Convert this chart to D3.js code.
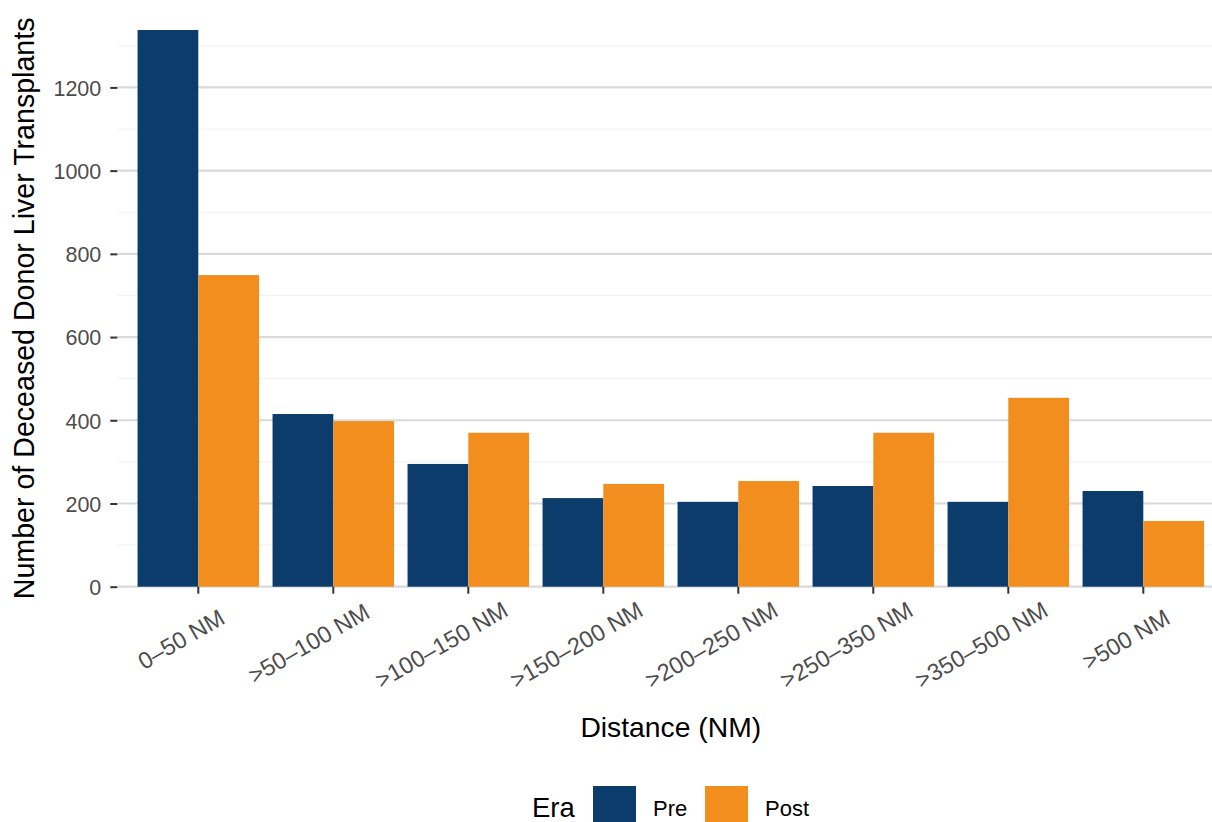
<!DOCTYPE html>
<html>
<head>
<meta charset="utf-8">
<script src="https://cdn.jsdelivr.net/npm/d3@7"></script>
<style>
  html, body { margin: 0; padding: 0; background: #fff; }
  svg { display: block; font-family: "Liberation Sans", Arial, Helvetica, sans-serif; }
</style>
</head>
<body>
<svg id="chart" width="1212" height="822"></svg>
<script>
// ---- data ----
const categories = ["0\u201350 NM", ">50\u2013100 NM", ">100\u2013150 NM", ">150\u2013200 NM",
                    ">200\u2013250 NM", ">250\u2013350 NM", ">350\u2013500 NM", ">500 NM"];
const eras = ["Pre", "Post"];
const preValues  = [1338, 415, 295, 213, 204, 242, 204, 230];
const postValues = [749, 398, 370, 247, 254, 370, 454, 158];
const yMajorTicks = [0, 200, 400, 600, 800, 1000, 1200];
const yMinorTicks = [100, 300, 500, 700, 900, 1100, 1300];
const eraColors = ["#0C3C6C", "#F28E1E"];
const xTitle = "Distance (NM)";
const yTitle = "Number of Deceased Donor Liver Transplants";
const legendTitle = "Era";

// ---- layout ----
const W = 1212, H = 822;
const panel = { left: 117.3, right: 1224.3, top: 30, bottom: 586.7 };

const svg = d3.select("#chart");

const x = d3.scaleBand().domain(categories)
  .range([panel.left, panel.right]).paddingInner(0.1).paddingOuter(0.15);
const xSub = d3.scaleBand().domain(eras).range([0, x.bandwidth()]).padding(0);
const y = d3.scaleLinear().domain([0, d3.max(preValues.concat(postValues))])
  .range([panel.bottom, panel.top]);
const color = d3.scaleOrdinal().domain(eras).range(eraColors);

// gridlines
svg.append("g").selectAll("line").data(yMinorTicks).join("line")
  .attr("x1", panel.left).attr("x2", panel.right)
  .attr("y1", d => y(d)).attr("y2", d => y(d))
  .attr("stroke", "#F2F2F2").attr("stroke-width", 1.2);
svg.append("g").selectAll("line").data(yMajorTicks).join("line")
  .attr("x1", panel.left).attr("x2", panel.right)
  .attr("y1", d => y(d)).attr("y2", d => y(d))
  .attr("stroke", "#DADADA").attr("stroke-width", 2.2);

// bars
const rows = categories.map((c, i) => ({ cat: c, vals: [
  { era: "Pre", v: preValues[i] }, { era: "Post", v: postValues[i] } ] }));
svg.append("g").selectAll("g").data(rows).join("g")
  .attr("transform", d => `translate(${x(d.cat)},0)`)
  .selectAll("rect").data(d => d.vals).join("rect")
  .attr("x", d => xSub(d.era)).attr("width", xSub.bandwidth())
  .attr("y", d => y(d.v)).attr("height", d => y(0) - y(d.v))
  .attr("fill", d => color(d.era));

// y axis
const yAxis = d3.axisLeft(y).tickValues(yMajorTicks).tickSize(7).tickPadding(9).tickFormat(d3.format("d"));
const gy = svg.append("g").attr("transform", `translate(${panel.left},0)`).call(yAxis);
gy.select(".domain").remove();
gy.selectAll(".tick line").attr("stroke", "#333333").attr("stroke-width", 2);
gy.selectAll(".tick text").attr("fill", "#4D4D4D").style("font-size", "21.5px")
  .attr("dy", "0.36em");

// x axis
const xAxis = d3.axisBottom(x).tickSize(7).tickFormat("");
const gx = svg.append("g").attr("transform", `translate(0,${panel.bottom})`).call(xAxis);
gx.select(".domain").remove();
gx.selectAll(".tick line").attr("stroke", "#333333").attr("stroke-width", 2);
gx.selectAll(".tick text").remove();

// rotated x labels
const xl = svg.append("g").selectAll("g").data(categories).join("g")
  .attr("transform", d => `translate(${x(d) + x.bandwidth() / 2},629) rotate(-30)`);
xl.append("text")
  .text(d => d)
  .attr("fill", "#4D4D4D").style("font-size", "23.5px")
  .attr("dy", "0.36em")
  .attr("text-anchor", "start")
  .attr("x", function () { return -0.71 * this.getComputedTextLength(); });

// axis titles
svg.append("text").text(xTitle)
  .attr("x", (panel.left + panel.right) / 2).attr("y", 736.5)
  .attr("text-anchor", "middle").style("font-size", "28.3px").attr("fill", "#000");
svg.append("text").text(yTitle)
  .attr("transform", `translate(34,${(panel.top + panel.bottom) / 2}) rotate(-90)`)
  .attr("text-anchor", "middle").style("font-size", "28.6px").attr("fill", "#000");

// legend
const lg = svg.append("g");
lg.append("text").text(legendTitle).attr("x", 532).attr("y", 816.5)
  .style("font-size", "27.5px").attr("fill", "#000");
const keyX = [593, 705];
const labX = [653, 765];
eras.forEach((e, i) => {
  lg.append("rect").attr("x", keyX[i]).attr("y", 786).attr("width", 43).attr("height", 43)
    .attr("fill", color(e));
  lg.append("text").text(e).attr("x", labX[i]).attr("y", 815.7)
    .style("font-size", "22px").attr("fill", "#000");
});
</script>
</body>
</html>
